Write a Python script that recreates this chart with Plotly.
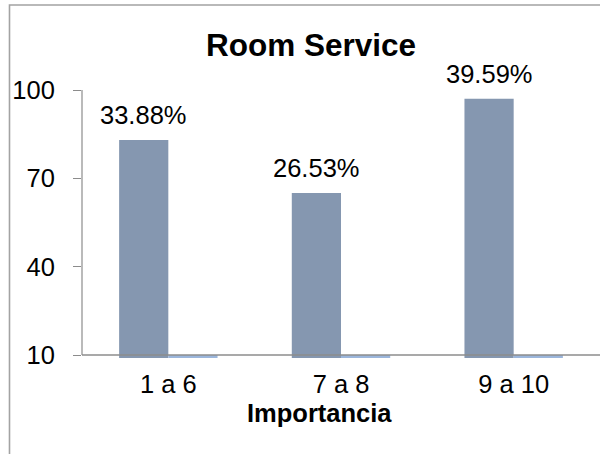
import plotly.graph_objects as go

# ---- data ----
categories = ["1 a 6", "7 a 8", "9 a 10"]
counts = [83, 65, 97]
share_fraction = [0.3388, 0.2653, 0.3959]
share_labels = ["33.88%", "26.53%", "39.59%"]
y_ticks = [10, 40, 70, 100]
axis_cross = 10          # horizontal axis crosses the value axis at 10
title_text = "Room Service"
x_title = "Importancia"

# ---- styling / layout constants ----
W, H = 600, 454
ML, MR, MT, MB = 82, 0, 90, 96
BARGAP = 0.43
FONT = "Liberation Sans, Arial, sans-serif"
LBL = 25.5
GRAY = "#8c8c8c"

plot_w = W - ML - MR
plot_h = H - MT - MB
cat_w = plot_w / len(categories)
bar_w = cat_w * (1 - BARGAP) / 2

fig = go.Figure()
fig.add_trace(go.Bar(
    x=categories, y=counts, name="Frecuencia",
    marker=dict(color="#8597b0", line=dict(width=0)),
))
# second series (fractions) lies below the axis minimum; as in Excel it is
# drawn from the axis crossing downward and clipped by the plot area
fig.add_trace(go.Bar(
    x=categories, y=[v - axis_cross for v in share_fraction], base=axis_cross,
    name="Porcentaje", marker=dict(color="#9bb6dc", line=dict(width=0)),
))

annotations = []
for c, v, t in zip(categories, counts, share_labels):
    annotations.append(dict(
        x=c, y=v, xref="x", yref="y", text=t, showarrow=False,
        xshift=-bar_w / 2, yanchor="bottom", yshift=9,
        font=dict(family=FONT, size=LBL, color="#000000"),
    ))
annotations.append(dict(
    x=(319 - ML) / plot_w, y=(MT + plot_h - 413) / plot_h,
    xref="paper", yref="paper", text="<b>" + x_title + "</b>",
    showarrow=False, xanchor="center", yanchor="middle",
    font=dict(family=FONT, size=LBL, color="#000000"),
))

shapes = [
    # outer chart border
    dict(type="rect", xref="paper", yref="paper",
         x0=(9.5 - ML) / plot_w, x1=(620 - ML) / plot_w,
         y0=(MT + plot_h - 480) / plot_h, y1=1 + (MT - 5) / plot_h,
         line=dict(color="#a3a3a3", width=1.6), fillcolor="rgba(0,0,0,0)", layer="below"),
    # horizontal axis line at the crossing value
    dict(type="line", xref="paper", yref="y", x0=0, x1=1, y0=axis_cross, y1=axis_cross,
         line=dict(color=GRAY, width=1.5), layer="above"),
    # vertical axis line
    dict(type="line", xref="paper", yref="y", x0=0, x1=0, y0=axis_cross, y1=y_ticks[-1],
         line=dict(color=GRAY, width=1.2), layer="above"),
]

fig.update_layout(
    width=W, height=H, autosize=False,
    margin=dict(l=ML, r=MR, t=MT, b=MB, pad=0),
    paper_bgcolor="white", plot_bgcolor="white",
    barmode="group", bargap=BARGAP, bargroupgap=0,
    showlegend=False,
    title=dict(text="<b>" + title_text + "</b>", x=311 / W, xref="container",
               xanchor="center", y=1 - 45 / H, yanchor="middle",
               font=dict(family=FONT, size=31.5, color="#000000")),
    xaxis=dict(showline=False, showgrid=False, zeroline=False, ticks="",
               tickfont=dict(family=FONT, size=LBL, color="#000000"),
               ticklabelstandoff=8),
    yaxis=dict(range=[9.0, y_ticks[-1]], tickvals=y_ticks, showline=False,
               showgrid=False, zeroline=False, ticks="outside", ticklen=8,
               tickcolor=GRAY, tickwidth=1.2,
               tickfont=dict(family=FONT, size=LBL, color="#000000"),
               ticklabelstandoff=13),
    annotations=annotations, shapes=shapes,
)

fig.write_html("out.html")
